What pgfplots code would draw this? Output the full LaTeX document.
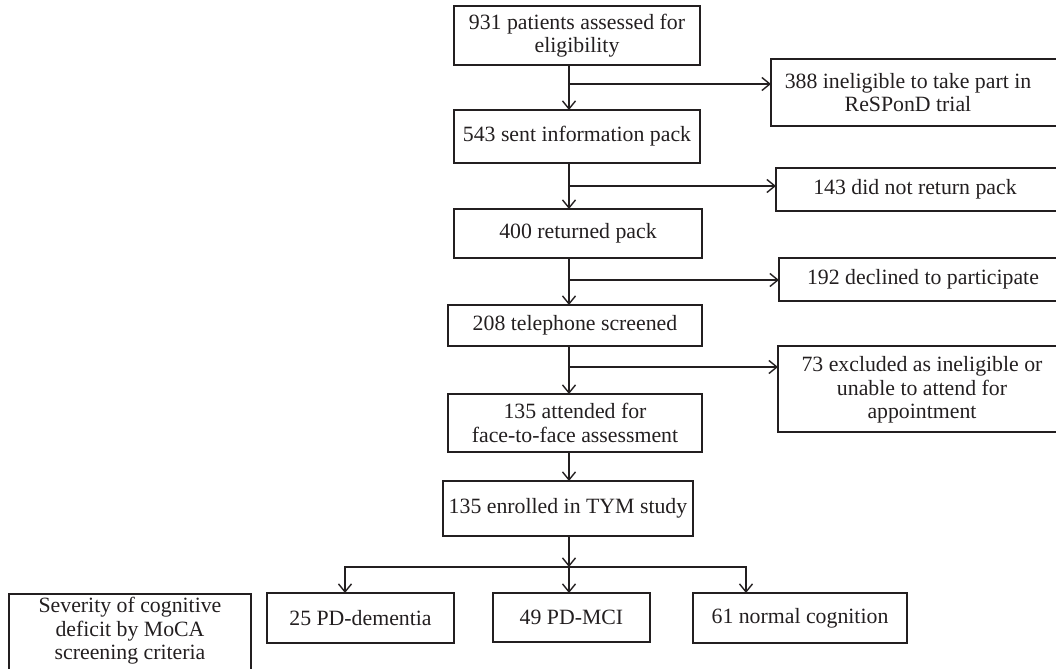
\documentclass[border=0pt]{standalone}
\usepackage{fontspec}
\setmainfont{Liberation Serif}
\usepackage{pgfplots}
\pgfplotsset{compat=1.18}
\usetikzlibrary{arrows.meta}
\definecolor{ink}{HTML}{231F20}
\newcommand{\fs}{\fontsize{10.9pt}{11.8pt}\selectfont}
\begin{document}
\begin{tikzpicture}
\begin{axis}[
  scale only axis, width=528pt, height=334.5pt,
  xmin=0, xmax=1056, ymin=0, ymax=669, y dir=reverse,
  enlargelimits=false, hide axis, clip=false]
\tikzset{bx/.style={draw=ink, line width=0.7pt},
  ar/.style={draw=ink, line width=0.7pt, -{Straight Barb[length=4pt,width=6.5pt]}},
  ln/.style={draw=ink, line width=0.7pt},
  tx/.style={align=center, font=\fs, text=ink, inner sep=0pt}}
% main column boxes
\draw[bx] (axis cs:454,6) rectangle (axis cs:700,65);
\draw[bx] (axis cs:454,110) rectangle (axis cs:700,163);
\draw[bx] (axis cs:454,209) rectangle (axis cs:702,258);
\draw[bx] (axis cs:448,305) rectangle (axis cs:702,346);
\draw[bx] (axis cs:448,394) rectangle (axis cs:702,452);
\draw[bx] (axis cs:443,481) rectangle (axis cs:693,536);
% right boxes
\draw[bx] (axis cs:771,59) rectangle (axis cs:1075,126);
\draw[bx] (axis cs:776,168) rectangle (axis cs:1075,211);
\draw[bx] (axis cs:779,258) rectangle (axis cs:1075,301);
\draw[bx] (axis cs:778,346) rectangle (axis cs:1075,432);
% bottom boxes
\draw[bx] (axis cs:9,594) rectangle (axis cs:251,690);
\draw[bx] (axis cs:267,593) rectangle (axis cs:454,643);
\draw[bx] (axis cs:493,593) rectangle (axis cs:650,642);
\draw[bx] (axis cs:693,593) rectangle (axis cs:907,643);
% connectors
\draw[ar] (axis cs:569,65) -- (axis cs:569,110);
\draw[ar] (axis cs:569,84) -- (axis cs:771,84);
\draw[ar] (axis cs:569,163) -- (axis cs:569,209);
\draw[ar] (axis cs:569,186) -- (axis cs:776,186);
\draw[ar] (axis cs:569,258) -- (axis cs:569,305);
\draw[ar] (axis cs:569,280) -- (axis cs:779,280);
\draw[ar] (axis cs:569,346) -- (axis cs:569,394);
\draw[ar] (axis cs:569,367) -- (axis cs:778,367);
\draw[ar] (axis cs:569,452) -- (axis cs:569,481);
\draw[ar] (axis cs:569,536) -- (axis cs:569,567);
\draw[ln] (axis cs:345,593) -- (axis cs:345,567) -- (axis cs:746,567) -- (axis cs:746,593);
\draw[ar] (axis cs:345,567) -- (axis cs:345,593);
\draw[ar] (axis cs:569,567) -- (axis cs:569,593);
\draw[ar] (axis cs:746,567) -- (axis cs:746,593);
% texts
\node[tx] at (axis cs:577,35.5) {931 patients assessed for\\eligibility};
\node[tx] at (axis cs:577,136.5) {543 sent information pack};
\node[tx] at (axis cs:578,233.5) {400 returned pack};
\node[tx] at (axis cs:575,325.5) {208 telephone screened};
\node[tx] at (axis cs:575,423) {135 attended for\\face-to-face assessment};
\node[tx] at (axis cs:568,508.5) {135 enrolled in TYM study};
\node[tx] at (axis cs:908,92.5) {388 ineligible to take part in\\ReSPonD trial};
\node[tx] at (axis cs:915,189.5) {143 did not return pack};
\node[tx] at (axis cs:923,279.5) {192 declined to participate};
\node[tx] at (axis cs:922,390) {73 excluded as ineligible or\\unable to attend for\\appointment};
\node[tx] at (axis cs:130,631) {Severity of cognitive\\deficit by MoCA\\screening criteria};
\node[tx] at (axis cs:360.5,618) {25 PD-dementia};
\node[tx] at (axis cs:571.5,617.5) {49 PD-MCI};
\node[tx] at (axis cs:800,618) {61 normal cognition};
\end{axis}
\pgfresetboundingbox
\path (0,0) rectangle (528pt,334.5pt);
\end{tikzpicture}
\end{document}
